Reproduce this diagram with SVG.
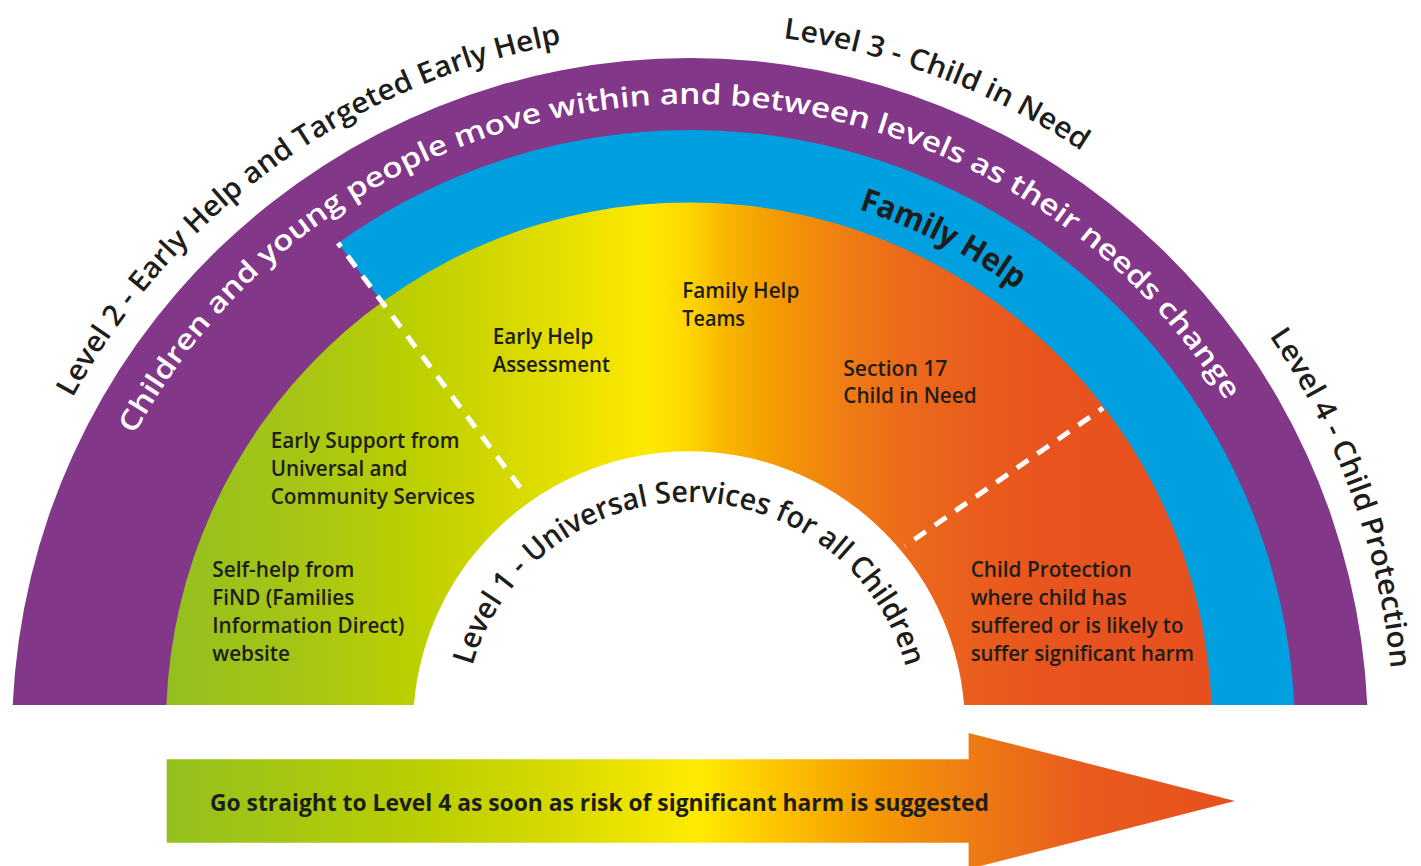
<svg xmlns="http://www.w3.org/2000/svg" width="1421" height="866" viewBox="0 0 1421 866">
  <defs>
    <!-- colour sweep across the inner levels, green (low need) to red (high need) -->
    <linearGradient id="levelsGrad" gradientUnits="userSpaceOnUse" x1="166" y1="0" x2="1212" y2="0">
      <stop offset="0" stop-color="#93c01f"/>
      <stop offset="0.128" stop-color="#a6c515"/>
      <stop offset="0.238" stop-color="#bccf00"/>
      <stop offset="0.348" stop-color="#dcdb00"/>
      <stop offset="0.463" stop-color="#ffe900"/>
      <stop offset="0.501" stop-color="#fed500"/>
      <stop offset="0.532" stop-color="#f9b800"/>
      <stop offset="0.577" stop-color="#f49d00"/>
      <stop offset="0.641" stop-color="#ef8012"/>
      <stop offset="0.705" stop-color="#ec6a1a"/>
      <stop offset="0.769" stop-color="#ea5e1d"/>
      <stop offset="0.85" stop-color="#e8531e"/>
      <stop offset="1" stop-color="#e6501e"/>
    </linearGradient>
    <linearGradient id="arrowGrad" gradientUnits="userSpaceOnUse" x1="166" y1="0" x2="1235" y2="0">
      <stop offset="0" stop-color="#93c01f"/>
      <stop offset="0.252" stop-color="#bccf00"/>
      <stop offset="0.369" stop-color="#d8da00"/>
      <stop offset="0.497" stop-color="#ffeb00"/>
      <stop offset="0.574" stop-color="#fcc300"/>
      <stop offset="0.659" stop-color="#f49b00"/>
      <stop offset="0.743" stop-color="#ef7f12"/>
      <stop offset="0.858" stop-color="#e95b1d"/>
      <stop offset="1" stop-color="#e6501e"/>
    </linearGradient>
    <!-- baselines for the curved captions -->
    <path id="arcOuter" d="M -14,736 A 704 704 0 0 1 1394,736"/>
    <path id="arcPurple" d="M 58,736 A 632 632 0 0 1 1322,736"/>
    <path id="arcBlue" d="M 137,736 A 553 553 0 0 1 1243,736"/>
    <path id="arcCore" d="M 464,727 A 225 225 0 0 1 914,727"/>
  </defs>
  <style>
    text { font-family: "Open Sans", "Liberation Sans", sans-serif; }
    .lbl { font-weight: 600; font-size: 21px; fill: #1d1d1b; }
    .lvl { font-weight: 600; font-size: 29px; fill: #1d1d1b; }
    .move { font-weight: 600; font-size: 28px; fill: #ffffff; }
    .fh { font-weight: 700; font-size: 32px; fill: #1d1d1b; }
    .core { font-weight: 600; font-size: 30px; fill: #1d1d1b; }
    .go { font-weight: 700; font-size: 23px; fill: #1d1d1b; }
    .divider { stroke: #ffffff; stroke-width: 5; stroke-dasharray: 14 11; fill: none; }
  </style>

  <rect width="1421" height="866" fill="#ffffff"/>

  <!-- concentric bands -->
  <g id="bands">
    <path id="purple-band" d="M 12.71,705 A 678 678 0 0 1 1367.29,705 Z" fill="#833789"/>
    <path id="family-help-band" d="M 338,243 A 605 605 0 0 1 1294.26,705 L 690,705 L 522,490 Z" fill="#009fe0"/>
    <path id="levels-fill" d="M 166.4,705 A 523 523 0 0 1 1211.6,705 Z" fill="url(#levelsGrad)"/>
    <path id="universal-core" d="M 413.9,705 A 276 276 0 0 1 964.1,705 Z" fill="#ffffff"/>
  </g>

  <!-- dashed dividers between levels -->
  <g id="dividers">
    <line class="divider" x1="338" y1="243" x2="522" y2="490" stroke-dashoffset="9"/>
    <line class="divider" x1="1103" y1="408" x2="905" y2="546" stroke-dashoffset="9"/>
  </g>

  <!-- level captions round the outside -->
  <g id="level-captions">
    <text class="lvl"><textPath href="#arcOuter" startOffset="352.6" textLength="624" lengthAdjust="spacingAndGlyphs">Level 2 - Early Help and Targeted Early Help</textPath></text>
    <text class="lvl"><textPath href="#arcOuter" startOffset="1199" textLength="322" lengthAdjust="spacingAndGlyphs">Level 3 - Child in Need</textPath></text>
    <text class="lvl"><textPath href="#arcOuter" startOffset="1786" textLength="358" lengthAdjust="spacingAndGlyphs">Level 4 - Child Protection</textPath></text>
  </g>

  <g id="movement-caption">
    <text class="move"><textPath href="#arcPurple" startOffset="314" textLength="1318" lengthAdjust="spacingAndGlyphs">Children and young people move within and between levels as their needs change</textPath></text>
  </g>

  <g id="family-help-caption">
    <text class="fh"><textPath href="#arcBlue" startOffset="1040" textLength="178" lengthAdjust="spacingAndGlyphs">Family Help</textPath></text>
  </g>

  <g id="level1-caption">
    <text class="core"><textPath href="#arcCore" startOffset="62" textLength="584" lengthAdjust="spacingAndGlyphs">Level 1 - Universal Services for all Children</textPath></text>
  </g>

  <!-- service labels -->
  <g id="self-help">
    <text class="lbl" x="212.3" y="577" textLength="142" lengthAdjust="spacingAndGlyphs">Self-help from</text>
    <text class="lbl" x="212.3" y="605" textLength="142" lengthAdjust="spacingAndGlyphs">FiND (Families</text>
    <text class="lbl" x="212.3" y="633" textLength="192" lengthAdjust="spacingAndGlyphs">Information Direct)</text>
    <text class="lbl" x="212.3" y="661" textLength="77.7" lengthAdjust="spacingAndGlyphs">website</text>
  </g>
  <g id="early-support">
    <text class="lbl" x="270.7" y="448" textLength="188.7" lengthAdjust="spacingAndGlyphs">Early Support from</text>
    <text class="lbl" x="270.7" y="476" textLength="136.7" lengthAdjust="spacingAndGlyphs">Universal and</text>
    <text class="lbl" x="270.7" y="504" textLength="204.3" lengthAdjust="spacingAndGlyphs">Community Services</text>
  </g>
  <g id="early-help-assessment">
    <text class="lbl" x="492.7" y="344" textLength="100.7" lengthAdjust="spacingAndGlyphs">Early Help</text>
    <text class="lbl" x="492.7" y="372" textLength="117.3" lengthAdjust="spacingAndGlyphs">Assessment</text>
  </g>
  <g id="family-help-teams">
    <text class="lbl" x="682.3" y="298.3" textLength="117" lengthAdjust="spacingAndGlyphs">Family Help</text>
    <text class="lbl" x="682.3" y="325.5" textLength="62.7" lengthAdjust="spacingAndGlyphs">Teams</text>
  </g>
  <g id="section-17">
    <text class="lbl" x="843.3" y="376" textLength="104" lengthAdjust="spacingAndGlyphs">Section 17</text>
    <text class="lbl" x="843.3" y="403.3" textLength="133.3" lengthAdjust="spacingAndGlyphs">Child in Need</text>
  </g>
  <g id="child-protection">
    <text class="lbl" x="970.7" y="577" textLength="161" lengthAdjust="spacingAndGlyphs">Child Protection</text>
    <text class="lbl" x="970.7" y="605" textLength="156" lengthAdjust="spacingAndGlyphs">where child has</text>
    <text class="lbl" x="970.7" y="633" textLength="212.7" lengthAdjust="spacingAndGlyphs">suffered or is likely to</text>
    <text class="lbl" x="970.7" y="661" textLength="223.3" lengthAdjust="spacingAndGlyphs">suffer significant harm</text>
  </g>

  <!-- escalation arrow -->
  <g id="escalation-arrow">
    <path d="M 166.7,759.3 L 968.6,759.3 L 968.6,733 L 1235,801 L 968.6,869 L 968.6,842.7 L 166.7,842.7 Z" fill="url(#arrowGrad)"/>
    <text class="go" x="210" y="810.7" textLength="779" lengthAdjust="spacingAndGlyphs">Go straight to Level 4 as soon as risk of significant harm is suggested</text>
  </g>
</svg>
